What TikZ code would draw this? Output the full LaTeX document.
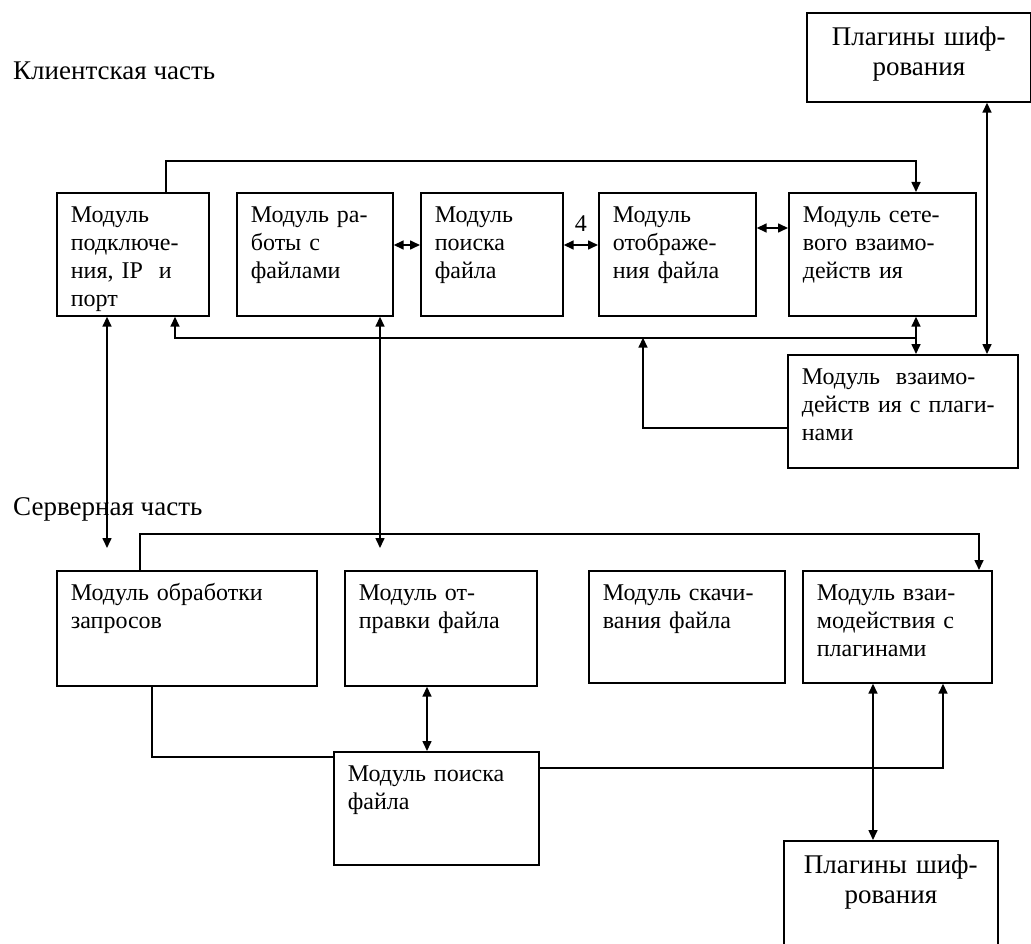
\documentclass[tikz,border=0pt]{standalone}
\usepackage{fontspec}
\setmainfont{Liberation Serif}
\usetikzlibrary{arrows.meta,calc,positioning}

\tikzset{
  modbox/.style={draw, line width=1.7pt, anchor=north west, align=left, inner xsep=14pt, inner ysep=6pt, text height=24pt, font=\fontsize{24}{28}\selectfont},
  plugbox/.style={modbox, align=center, text height=27pt, font=\fontsize{27}{30}\selectfont},
  part/.style={anchor=base west, inner sep=0pt, font=\fontsize{27}{30}\selectfont},
  wire/.style={line width=1.6pt},
  arr/.style={wire, -{Triangle[length=10pt,width=9pt]}},
  dbl/.style={wire, {Triangle[length=10pt,width=9pt]}-{Triangle[length=10pt,width=9pt]}}
}

\begin{document}
\begin{tikzpicture}[x=1pt, y=-1pt]
   \useasboundingbox (0,0) rectangle (1031,944);
   \node[part] (client) at (13,80) {Клиентская часть};
   \node[part] (server) at (13,515) {Серверная часть};
   \begin{scope}[every node/.style={modbox}]
    \node[text width=124pt, text depth=87pt] (b1) at (56,192) {Модуль\\подключе-\\ния, IP~~и\\порт};
    \node[text width=128pt, text depth=87pt] (b2) at (236,192) {Модуль ра-\\боты с\\файлами};
    \node[text width=114pt, text depth=87pt] (b3) at (420,192) {Модуль\\поиска\\файла};
    \node[text width=129pt, text depth=87pt] (b4) at (598,192) {Модуль\\отображе-\\ния файла};
    \node[text width=159pt, text depth=87pt] (b5) at (788,192) {Модуль сете-\\вого взаимо-\\действ ия};
    \node[text width=202pt, text depth=77pt] (cplug) at (787,354) {Модуль~~взаимо-\\действ ия с плаги-\\нами};
    \node[text width=232pt, text depth=79pt] (s1) at (56,570) {Модуль обработки\\запросов};
    \node[text width=164pt, text depth=79pt] (s2) at (344,570) {Модуль от-\\правки файла};
    \node[text width=168pt, text depth=76pt] (s3) at (588,570) {Модуль скачи-\\вания файла};
    \node[text width=161pt, text depth=76pt] (s4) at (802,570) {Модуль взаи-\\модействия с\\плагинами};
    \node[text width=177pt, text depth=77pt] (s5) at (333,751) {Модуль поиска\\файла};
    \node[plugbox, text width=196pt, text depth=50pt] (plugtop) at (806,12) {Плагины шиф-\\рования};
    \node[plugbox, text width=186pt, text depth=90pt] (plugbot) at (783,840) {Плагины шиф-\\рования};
   \end{scope}
   \draw[arr] ($(b1.north west)+(110,0)$) -- ++(0,-31) -| ($(b5.north west)+(128,0)$);
   \draw[dbl] ($(b2.north east)+(0,53)$) -- ($(b3.north west)+(0,53)$);
   \draw[dbl] ($(b3.north east)+(0,53)$) -- node[above=9pt, font=\fontsize{24}{28}\selectfont]{4} ($(b4.north west)+(0,53)$);
   \draw[dbl] ($(b4.north east)+(0,36)$) -- ($(b5.north west)+(0,36)$);
   \draw[dbl] ($(plugtop.south west)+(181,0)$) -- ($(cplug.north west)+(200,0)$);
   \draw[dbl] ($(b5.south west)+(128,0)$) -- ($(cplug.north west)+(129,0)$);
   \draw[arr] ($(b5.south west)+(128,21)$) -| ($(b1.south west)+(119,0)$);
   \draw[arr] ($(cplug.north west)+(0,74)$) -| ($(b4.south west)+(45,21)$);
   \draw[dbl] ($(b1.south west)+(51,0)$) -- ($(s1.north west)+(51,-22)$);
   \draw[dbl] ($(b2.south west)+(144,0)$) -- ($(s2.north west)+(36,-22)$);
   \draw[arr] ($(s1.north west)+(84,0)$) -- ++(0,-36) -| ($(s4.north west)+(177,0)$);
   \draw[dbl] ($(s2.south west)+(83,0)$) -- ($(s5.north west)+(94,0)$);
   \draw[wire] ($(s1.south west)+(96,0)$) |- ($(s5.north west)+(0,6)$);
   \draw[arr] ($(s5.north east)+(0,17)$) -| ($(s4.south west)+(141,0)$);
   \draw[dbl] ($(s4.south west)+(71,0)$) -- ($(plugbot.north west)+(90,0)$);
\end{tikzpicture}
\end{document}
